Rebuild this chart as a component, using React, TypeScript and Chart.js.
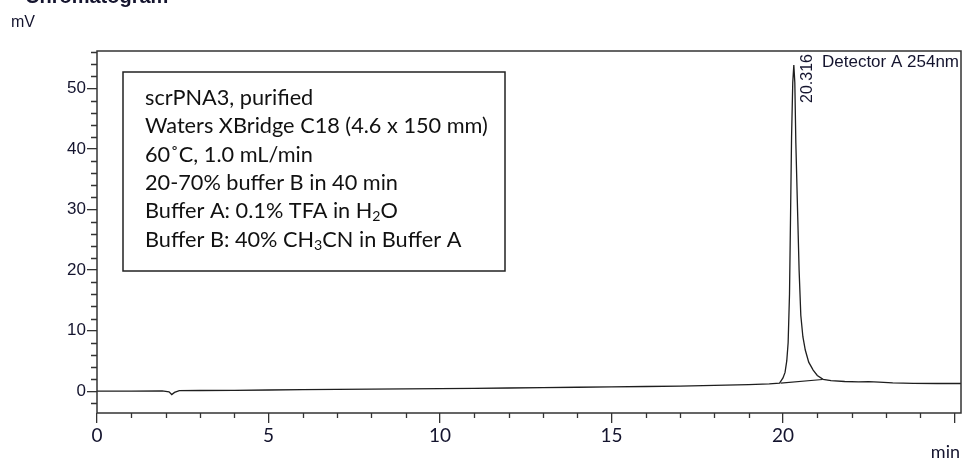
import React, { useEffect, useRef } from 'react';
import { Chart, registerables } from 'chart.js';

Chart.register(...registerables);

// ---- data ----
const signalTimes = [
  0, 1.0, 1.9, 2.1, 2.18, 2.26, 2.4, 3.0, 4.0, 5.0, 6.0, 7.0, 8.0, 9.0, 10.0,
  11.0, 12.0, 13.0, 14.0, 15.0, 16.0, 17.0, 18.0, 19.0, 19.6, 19.9, 20.0, 20.06,
  20.11, 20.15, 20.19, 20.22, 20.25, 20.285, 20.316, 20.345, 20.375, 20.43, 20.47,
  20.52, 20.58, 20.65, 20.75, 20.88, 21.0, 21.17, 21.4, 21.8, 22.2, 22.5, 22.8,
  23.2, 23.8, 24.5, 25.2,
];
const signalValues = [
  0.0, 0.02, 0.05, -0.1, -0.55, -0.2, 0.1, 0.12, 0.15, 0.2, 0.25, 0.3, 0.33, 0.38, 0.42,
  0.48, 0.53, 0.6, 0.65, 0.7, 0.78, 0.85, 0.95, 1.1, 1.22, 1.35, 2.2, 3.1,
  5.0, 8.0, 16.0, 28.8, 42.0, 51.0, 53.9, 51.0, 41.0, 28.8, 20.0,
  12.5, 9.0, 6.8, 4.8, 3.5, 2.6, 1.95, 1.75, 1.6, 1.55, 1.58, 1.5,
  1.38, 1.3, 1.27, 1.27,
];
const baselineTimes = [19.93, 21.15];
const baselineValues = [1.35, 1.93];

const peakTime = 20.316;
const peakHeight = 53.9;
const peakLabel = '20.316';
const detectorLabel = 'Detector A 254nm';
const titleText = 'Chromatogram';
const yUnit = 'mV';
const xUnit = 'min';

const xLabelTicks = [0, 5, 10, 15, 20];
const yLabelTicks = [0, 10, 20, 30, 40, 50];
const xRange = [0, 25.19];
const yRange = [-3.6, 56.2];

type Seg = { t: string; sub?: boolean };
const infoLines: Seg[][] = [
  [{ t: 'scrPNA3, purified' }],
  [{ t: 'Waters XBridge C18 (4.6 x 150 mm)' }],
  [{ t: '60˚C, 1.0 mL/min' }],
  [{ t: '20-70% buffer B in 40 min' }],
  [{ t: 'Buffer A: 0.1% TFA in H' }, { t: '2', sub: true }, { t: 'O' }],
  [{ t: 'Buffer B: 40% CH' }, { t: '3', sub: true }, { t: 'CN in Buffer A' }],
];

const AXIS_COLOR = '#333333';
const TEXT_COLOR = '#14142e';
const LINE_COLOR = '#1e1e1e';
const INFO_FONT = 'Lato, "Open Sans", sans-serif';
const ARIAL = '"Liberation Sans", Arial, sans-serif';

const decorPlugin = {
  id: 'decor',
  afterDraw(chart: any) {
    const { ctx, chartArea: a, scales } = chart;
    const x = scales.x;
    const y = scales.y;
    ctx.save();

    // frame
    ctx.strokeStyle = AXIS_COLOR;
    ctx.lineWidth = 1.5;
    ctx.strokeRect(a.left, a.top, a.right - a.left, a.bottom - a.top);

    // minor ticks
    ctx.lineWidth = 1.3;
    ctx.beginPath();
    for (let v = Math.ceil(y.min / 2) * 2; v <= y.max; v += 2) {
      if (v % 10 === 0) continue;
      const py = Math.round(y.getPixelForValue(v)) + 0.5;
      ctx.moveTo(a.left - 6, py);
      ctx.lineTo(a.left, py);
    }
    for (let v = Math.ceil(x.min); v <= x.max; v += 1) {
      if (v % 5 === 0) continue;
      const px = Math.round(x.getPixelForValue(v)) + 0.5;
      ctx.moveTo(px, a.bottom);
      ctx.lineTo(px, a.bottom + 5);
    }
    ctx.stroke();

    // title (cut off at the top of the picture)
    ctx.fillStyle = TEXT_COLOR;
    ctx.font = `bold 20px ${ARIAL}`;
    ctx.textAlign = 'left';
    ctx.textBaseline = 'alphabetic';
    ctx.fillText(titleText, 25, 3);

    // unit labels
    ctx.font = `16px ${ARIAL}`;
    ctx.fillText(yUnit, 11, 27);
    ctx.font = `18px ${INFO_FONT}`;
    ctx.textAlign = 'right';
    ctx.fillText(xUnit, 960, 458);

    // detector label
    ctx.font = `17px ${ARIAL}`;
    ctx.textAlign = 'right';
    ctx.fillText(detectorLabel, a.right - 2, a.top + 16);

    // peak label, rotated
    const px = x.getPixelForValue(peakTime);
    const py = y.getPixelForValue(peakHeight);
    ctx.save();
    ctx.translate(px + 18.5, py + 38);
    ctx.rotate(-Math.PI / 2);
    ctx.font = `16px ${ARIAL}`;
    ctx.textAlign = 'left';
    ctx.fillText(peakLabel, 0, 0);
    ctx.restore();

    // info box
    const bx = 123, by = 72, bw = 382, bh = 199;
    ctx.fillStyle = '#ffffff';
    ctx.fillRect(bx, by, bw, bh);
    ctx.strokeStyle = '#222222';
    ctx.lineWidth = 1.5;
    ctx.strokeRect(bx, by, bw, bh);

    // fit font size so the widest line spans the reference width
    ctx.font = `20px ${INFO_FONT}`;
    const refW = ctx.measureText('Waters XBridge C18 (4.6 x 150 mm)').width;
    const fs = (20 * 343) / refW;
    ctx.fillStyle = '#111111';
    ctx.textAlign = 'left';
    infoLines.forEach((line, i) => {
      let cx = 145;
      const base = 105 + i * 28.3;
      line.forEach((s) => {
        if (s.sub) {
          ctx.font = `${fs * 0.65}px ${INFO_FONT}`;
          ctx.fillText(s.t, cx, base + fs * 0.15);
        } else {
          ctx.font = `${fs}px ${INFO_FONT}`;
          ctx.fillText(s.t, cx, base);
        }
        cx += ctx.measureText(s.t).width;
      });
    });

    ctx.restore();
  },
};

export default function App() {
  const ref = useRef<HTMLCanvasElement | null>(null);

  useEffect(() => {
    document.body.style.margin = '0';
    const canvas = ref.current;
    if (!canvas) return;
    const sig = signalTimes.map((t, i) => ({ x: t, y: signalValues[i] }));
    const bl = baselineTimes.map((t, i) => ({ x: t, y: baselineValues[i] }));

    const chart = new Chart(canvas, {
      type: 'line',
      data: {
        datasets: [
          { data: sig, borderColor: LINE_COLOR, borderWidth: 1.3, pointRadius: 0, tension: 0, fill: false },
          { data: bl, borderColor: LINE_COLOR, borderWidth: 1.2, pointRadius: 0, tension: 0, fill: false },
        ],
      },
      options: {
        animation: false,
        responsive: false,
        events: [],
        layout: { padding: { top: 51, right: 3, left: 0, bottom: 0 } },
        plugins: { legend: { display: false }, tooltip: { enabled: false }, title: { display: false } },
        scales: {
          x: {
            type: 'linear',
            min: xRange[0],
            max: xRange[1],
            afterFit: (s: any) => { s.height = 48; },
            border: { display: false },
            grid: {
              drawOnChartArea: false,
              tickLength: 10,
              lineWidth: 1.3,
              tickColor: (c: any) => (c.tick && c.tick.value % 5 === 0 ? AXIS_COLOR : 'rgba(0,0,0,0)'),
            },
            ticks: {
              stepSize: 1,
              includeBounds: false,
              autoSkip: false,
              maxRotation: 0,
              padding: 1,
              color: TEXT_COLOR,
              font: { family: INFO_FONT, size: 19 },
              callback: (v: any) => (xLabelTicks.includes(Number(v)) ? String(v) : ''),
            },
          },
          y: {
            type: 'linear',
            min: yRange[0],
            max: yRange[1],
            afterFit: (s: any) => { s.width = 97; },
            border: { display: false },
            grid: {
              drawOnChartArea: false,
              tickLength: 10,
              lineWidth: 1.3,
              tickColor: (c: any) => (c.tick && c.tick.value % 10 === 0 ? AXIS_COLOR : 'rgba(0,0,0,0)'),
            },
            ticks: {
              stepSize: 2,
              includeBounds: false,
              autoSkip: false,
              padding: 1,
              color: TEXT_COLOR,
              font: { family: ARIAL, size: 17 },
              callback: (v: any) => (yLabelTicks.includes(Number(v)) ? String(v) : ''),
            },
          },
        },
      },
      plugins: [decorPlugin],
    });
    return () => chart.destroy();
  }, []);

  return <canvas ref={ref} width={964} height={461} style={{ display: 'block' }} />;
}
